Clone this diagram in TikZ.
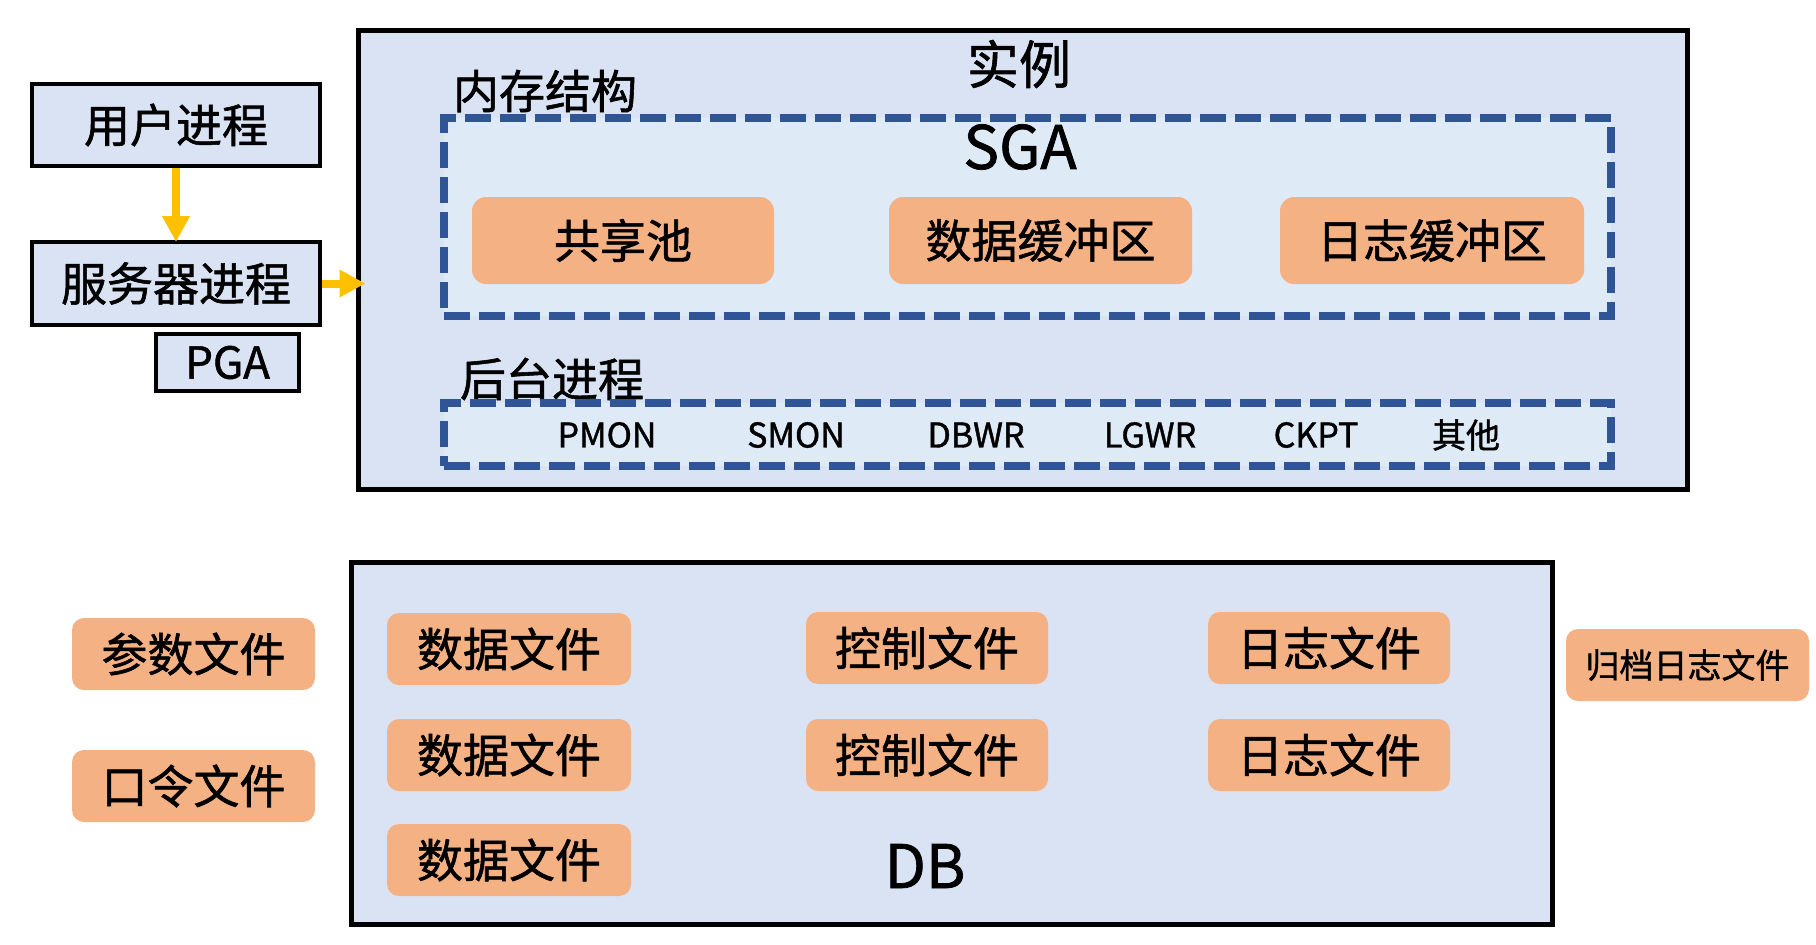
\documentclass[tikz,border=0pt]{standalone}
\usepackage{fontspec}
\newfontfamily\cjk[FakeBold=1.2]{Noto Sans CJK SC}
\usetikzlibrary{arrows.meta}
\definecolor{instfill}{HTML}{DAE3F3}
\definecolor{sgafill}{HTML}{DEEAF6}
\definecolor{dashblue}{HTML}{2F5597}
\definecolor{orangefill}{HTML}{F4B183}
\definecolor{arrowyellow}{HTML}{FFC000}
\newcommand\myfs[1]{\fontsize{#1}{#1}\selectfont}
\begin{document}
\begin{tikzpicture}[x=0.5pt,y=-0.5pt,
  every node/.style={inner sep=0pt, outer sep=0pt},
  wh/.style n args={2}{minimum width=#1*0.5pt, minimum height=#2*0.5pt},
  procbox/.style={draw=black, line width=2pt, fill=instfill, font={\cjk\myfs{23pt}}},
  bigbox/.style={draw=black, line width=2.5pt, fill=instfill},
  dashbox/.style={draw=dashblue, line width=4pt, dash pattern=on 13pt off 4.5pt, fill=sgafill},
  obox/.style={fill=orangefill, rounded corners=7pt, font={\cjk\myfs{23pt}}},
  lbl/.style={font={\cjk\myfs{23pt}}},
  biglbl/.style={font={\cjk\myfs{30pt}}},
  proclbl/.style={font={\cjk\myfs{17pt}}},
  yarrow/.style={draw=arrowyellow, line width=4pt, -{Triangle[length=13pt,width=13pt]}}
]
\useasboundingbox (0,0) rectangle (1816,944);

% ---------- instance ----------
\node[bigbox, wh={1329}{459}] (inst) at (1023,260) {};
\node[font={\cjk\myfs{26pt}}] (instlbl) at (1019,64) {实例};
\node[lbl, anchor=west] (memlbl) at (453,91) {内存结构};
\node[dashbox, wh={1167}{197.5}] (sga) at (1027.5,217) {};
\node[biglbl] (sgalbl) at (1020,147) {SGA};
\node[obox, wh={302}{87}] (pool) at (623,240.5) {共享池};
\node[obox, wh={303}{87}] (dbuf) at (1040.5,240.5) {数据缓冲区};
\node[obox, wh={304}{87}] (lbuf) at (1432,240.5) {日志缓冲区};

\node[lbl, anchor=west] (bglbl) at (460,379) {后台进程};
\node[dashbox, wh={1167}{63}] (bg) at (1027.5,434.5) {};
\node[proclbl] (pmon) at (607,435) {PMON};
\node[proclbl] (smon) at (796,435) {SMON};
\node[proclbl] (dbwr) at (976,435) {DBWR};
\node[proclbl] (lgwr) at (1150,435) {LGWR};
\node[proclbl] (ckpt) at (1316,435) {CKPT};
\node[proclbl] (other) at (1466,435) {其他};

% ---------- processes on the left ----------
\node[procbox, wh={288}{82}] (user) at (176,125) {用户进程};
\node[procbox, wh={288}{83}] (server) at (176,283.5) {服务器进程};
\node[procbox, wh={143}{57}, font={\cjk\myfs{22pt}}] (pga) at (227.5,362.5) {PGA};

% ---------- database ----------
\node[bigbox, wh={1201}{362}] (db) at (951.5,743.5) {};
\node[biglbl] (dblbl) at (925,866) {DB};
\begin{scope}[obox/.append style={rounded corners=6pt}]
\node[obox, wh={244}{72}] (data1) at (509,649) {数据文件};
\node[obox, wh={244}{72}] (data2) at (509,755) {数据文件};
\node[obox, wh={244}{72}] (data3) at (509,860) {数据文件};
\node[obox, wh={242}{72}] (ctl1) at (927,648) {控制文件};
\node[obox, wh={242}{72}] (ctl2) at (927,755) {控制文件};
\node[obox, wh={242}{72}] (log1) at (1329,648) {日志文件};
\node[obox, wh={242}{72}] (log2) at (1329,755) {日志文件};
\node[obox, wh={243}{72}] (param) at (193.5,654) {参数文件};
\node[obox, wh={243}{72}] (pwd) at (193.5,786) {口令文件};
\node[obox, wh={243}{72}, font={\cjk\myfs{17pt}}] (arch) at (1687.5,665) {归档日志文件};
\end{scope}

% ---------- arrows ----------
\draw[yarrow, shorten <=1pt] (user.south) -- (server.north);
\draw[yarrow, shorten <=1pt, shorten >=-3.5pt] (server.east) -- (server.east -| inst.west);
\end{tikzpicture}
\end{document}
